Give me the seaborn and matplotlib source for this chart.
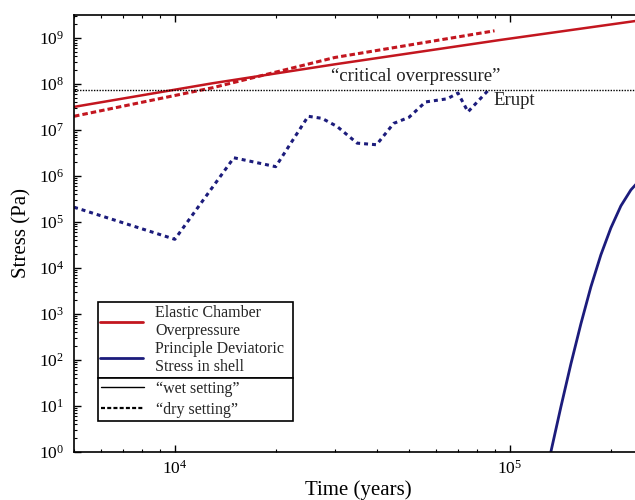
import numpy as np
import pandas as pd
import matplotlib
matplotlib.use("Agg")
import matplotlib.pyplot as plt
import seaborn as sns
from matplotlib.lines import Line2D
from matplotlib.ticker import LogLocator, NullFormatter

# ---- data ----
wet_chamber_t = [5000, 13000, 30000, 94000, 250000]
wet_chamber_p = [3.2e7, 1.05e8, 2.7e8, 9.2e8, 2.5e9]

dry_chamber_t = [5000, 13000, 30000, 90000]
dry_chamber_p = [2.0e7, 8.4e7, 3.8e8, 1.45e9]

dry_shell_t = [5000, 10000, 15000, 20000, 25000, 27500, 30500, 35000, 40000,
               45000, 50000, 56000, 65000, 70000, 75000, 87000]
dry_shell_s = [2.1e5, 4.2e4, 2.5e6, 1.6e6, 2.0e7, 1.8e7, 1.2e7, 5.2e6, 4.8e6,
               1.4e7, 1.9e7, 4.1e7, 4.8e7, 6.4e7, 2.5e7, 7.9e7]

wet_shell_t = [128000, 132600, 142000, 152100, 162900, 174500, 186900,
               200200, 214500, 229800, 248000]
wet_shell_s = [0.32, 1.0, 9.4, 81, 603, 3855, 1.92e4,
               7.4e4, 2.24e5, 5.0e5, 9.2e5]

critical_overpressure = 7.6e7

legend_colors = ["Elastic Chamber\nOverpressure", "Principle Deviatoric\nStress in shell"]
legend_styles = ["\u201cwet setting\u201d", "\u201cdry setting\u201d"]

RED = "#c3161f"
BLUE = "#1c1c7c"

sns.set_theme(style="ticks")
plt.rcParams["font.family"] = ["Liberation Serif", "DejaVu Serif"]
plt.rcParams["mathtext.fontset"] = "stix"

fig = plt.figure(figsize=(6.35, 5), dpi=100)
ax = fig.add_axes([74 / 635, 48.3 / 500, 568 / 635, 436.7 / 500])

df_wc = pd.DataFrame({"t": wet_chamber_t, "v": wet_chamber_p})
df_dc = pd.DataFrame({"t": dry_chamber_t, "v": dry_chamber_p})
df_ds = pd.DataFrame({"t": dry_shell_t, "v": dry_shell_s})
df_ws = pd.DataFrame({"t": wet_shell_t, "v": wet_shell_s})

sns.lineplot(data=df_wc, x="t", y="v", ax=ax, color=RED, lw=1.8,
             estimator=None, sort=False)
sns.lineplot(data=df_dc, x="t", y="v", ax=ax, color=RED, lw=2.2,
             linestyle=(0, (1.8, 1.0)), estimator=None, sort=False)
sns.lineplot(data=df_ds, x="t", y="v", ax=ax, color=BLUE, lw=2.2,
             linestyle=(0, (1.3, 1.3)), estimator=None, sort=False)
sns.lineplot(data=df_ws, x="t", y="v", ax=ax, color=BLUE, lw=2.0,
             estimator=None, sort=False)

ax.axhline(critical_overpressure, color="black", lw=1.0, linestyle=(0, (1, 1)))

ax.set_xscale("log")
ax.set_yscale("log")
ax.set_xlim(5000, 2.48e5)
ax.set_ylim(1, 3.2e9)

ax.xaxis.set_major_locator(LogLocator(base=10, numticks=20))
ax.xaxis.set_minor_locator(LogLocator(base=10, subs=np.arange(2, 10), numticks=100))
ax.yaxis.set_major_locator(LogLocator(base=10, numticks=20))
ax.yaxis.set_minor_locator(LogLocator(base=10, subs=np.arange(2, 10), numticks=100))
ax.xaxis.set_minor_formatter(NullFormatter())
ax.yaxis.set_minor_formatter(NullFormatter())

ax.tick_params(which="both", direction="in", top=True, right=True, colors="black")
ax.tick_params(which="major", length=5, width=1.0, labelsize=12.5)
ax.tick_params(which="minor", length=2.5, width=0.8)
ax.tick_params(axis="y", which="major", pad=7)
ax.tick_params(axis="x", which="major", pad=6)
for s in ax.spines.values():
    s.set_linewidth(1.2)
    s.set_color("black")

ax.set_xlabel("Time (years)", fontsize=15, labelpad=2, color="black")
ax.set_ylabel("Stress (Pa)", fontsize=15, labelpad=5, color="black")

ax.text(29230, 1.44e8, "\u201ccritical overpressure\u201d", fontsize=13.5,
        va="center", ha="left", color="#222222")
ax.text(89500, 4.4e7, "Erupt", fontsize=13.5, va="center", ha="left", color="#222222")

# legends
h_colors = [Line2D([], [], color=RED, lw=2), Line2D([], [], color=BLUE, lw=2)]
h_styles = [Line2D([], [], color="black", lw=1.0),
            Line2D([], [], color="black", lw=1.6, linestyle=(0, (1.8, 1.0)))]

leg_kw = dict(fontsize=11.5, frameon=True, fancybox=False, framealpha=1,
              edgecolor="black", borderaxespad=0, mode="expand",
              handlelength=2.7, handletextpad=0.75)
leg1 = ax.legend(h_colors, legend_colors, loc="lower left",
                 bbox_to_anchor=(0.0417, 0.1695, 0.3444, 0.1717),
                 labelspacing=0.12, borderpad=0.15, **leg_kw)
for t in leg1.get_texts():
    t.set_linespacing(1.2)
leg1.get_frame().set_linewidth(1.2)
ax.add_artist(leg1)
leg2 = ax.legend(h_styles, legend_styles, loc="upper left",
                 bbox_to_anchor=(0.0417, 0.0687, 0.3444, 0.1008),
                 labelspacing=0.32, borderpad=0.2, **leg_kw)
leg2.get_frame().set_linewidth(1.2)

fig.savefig("out.png", dpi=100)
